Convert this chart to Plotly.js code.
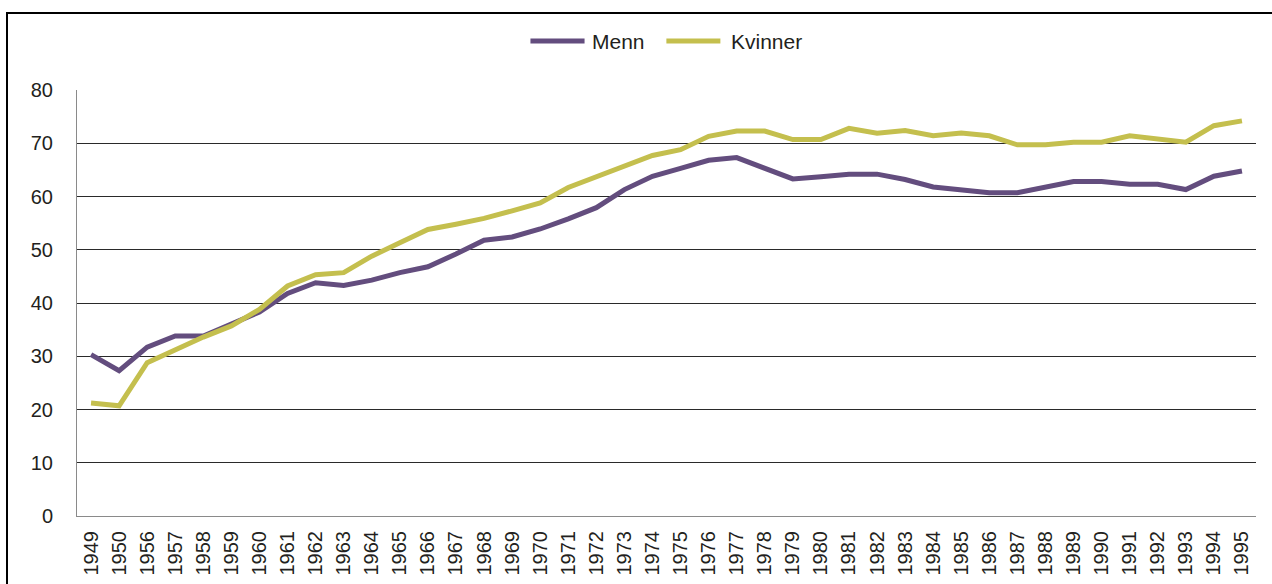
<!DOCTYPE html>
<html>
<head>
<meta charset="utf-8">
<script src="https://cdn.plot.ly/plotly-3.0.1.min.js"></script>
<style>
  html, body { margin: 0; padding: 0; background: #ffffff; overflow: hidden; }
  #frame { position: absolute; left: 6px; top: 12px; width: 1300px; height: 700px;
           border-left: 2px solid #000; border-top: 2px solid #000; box-sizing: border-box; }
  #chart { position: absolute; left: 0; top: 0; width: 1272px; height: 584px; }
</style>
</head>
<body>
<div id="frame"></div>
<div id="chart"></div>
<script>
const years = ["1949","1950","1956","1957","1958","1959","1960","1961","1962","1963","1964","1965","1966","1967","1968","1969","1970","1971","1972","1973","1974","1975","1976","1977","1978","1979","1980","1981","1982","1983","1984","1985","1986","1987","1988","1989","1990","1991","1992","1993","1994","1995"];

const menn = [30.3, 27.3, 31.7, 33.8, 33.8, 36.1, 38.3, 41.8, 43.8, 43.3, 44.3, 45.7, 46.8, 49.2, 51.8, 52.4, 53.9, 55.8, 57.9, 61.3, 63.8, 65.3, 66.8, 67.3, 65.3, 63.3, 63.7, 64.2, 64.2, 63.2, 61.8, 61.2, 60.7, 60.7, 61.7, 62.8, 62.8, 62.3, 62.3, 61.3, 63.8, 64.8];

const kvinner = [21.2, 20.7, 28.8, 31.2, 33.6, 35.7, 38.8, 43.2, 45.3, 45.7, 48.8, 51.3, 53.8, 54.8, 55.9, 57.3, 58.8, 61.7, 63.7, 65.6, 67.7, 68.8, 71.3, 72.3, 72.3, 70.7, 70.7, 72.8, 71.9, 72.4, 71.4, 71.9, 71.4, 69.7, 69.7, 70.2, 70.2, 71.4, 70.9, 70.2, 73.3, 74.2];

const seriesNames = ["Menn", "Kvinner"];
const seriesColors = ["#634d7e", "#c4bf4e"];

const traces = [
  { x: years, y: menn, name: seriesNames[0], type: "scatter", mode: "lines",
    line: { color: seriesColors[0], width: 5 } },
  { x: years, y: kvinner, name: seriesNames[1], type: "scatter", mode: "lines",
    line: { color: seriesColors[1], width: 5 } }
];

// Custom legend (longer keys, as in the reference)
const legendY = 1.115;
const legendKeys = [
  { x0: 0.3846, x1: 0.4305, tx: 0.4355 },
  { x0: 0.4999, x1: 0.5457, tx: 0.5527 }
];
const shapes = legendKeys.map((k, i) => ({
  type: "line", xref: "paper", yref: "paper",
  x0: k.x0, x1: k.x1, y0: legendY, y1: legendY,
  line: { color: seriesColors[i], width: 5, cap: "round" }
}));
const annotations = legendKeys.map((k, i) => ({
  xref: "paper", yref: "paper", x: k.tx, y: legendY,
  xanchor: "left", yanchor: "middle", showarrow: false,
  text: seriesNames[i], font: { size: 21, color: "#231f20" }
}));

const layout = {
  width: 1272, height: 584,
  margin: { l: 77, r: 16, t: 90, b: 68 },
  paper_bgcolor: "rgba(0,0,0,0)",
  plot_bgcolor: "#ffffff",
  font: { family: "Liberation Sans, Arial, sans-serif", color: "#231f20", size: 20 },
  showlegend: false,
  shapes: shapes,
  annotations: annotations,
  xaxis: {
    type: "category", range: [-0.5, years.length - 0.5],
    tickangle: -90, tickfont: { size: 20, color: "#231f20" },
    showgrid: false, showline: true, linecolor: "#8a8a8a", linewidth: 1,
    ticks: "", ticklabelstandoff: 6, fixedrange: true
  },
  yaxis: {
    range: [0, 80], dtick: 10, tick0: 0,
    tickfont: { size: 20, color: "#231f20" },
    showgrid: true, gridcolor: "#2a2a2a", gridwidth: 1,
    zeroline: false, showline: true, linecolor: "#8a8a8a", linewidth: 1,
    ticks: "", ticklabelstandoff: 19, fixedrange: true
  }
};

Plotly.newPlot("chart", traces, layout, { displayModeBar: false, staticPlot: true });
</script>
</body>
</html>
